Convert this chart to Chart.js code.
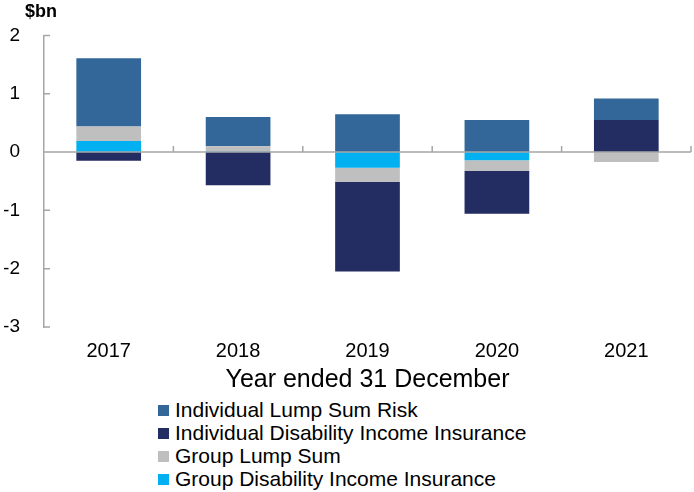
<!DOCTYPE html>
<html>
<head>
<meta charset="utf-8">
<script src="https://cdn.jsdelivr.net/npm/chart.js@4"></script>
<style>
  body { margin: 0; background: #fff; font-family: "Liberation Sans", Arial, sans-serif; }
  #wrap { position: relative; width: 694px; height: 492px; }
  #legend { position: absolute; left: 158px; top: 398px; margin: 0; padding: 0; list-style: none; }
  #legend li { height: 23px; line-height: 23px; font-size: 21px; color: #000; white-space: nowrap; }
  #legend span { display: inline-block; width: 11px; height: 11px; margin-right: 6px; vertical-align: 1px; }
</style>
</head>
<body>
<div id="wrap">
  <canvas id="chart" width="694" height="398"></canvas>
  <ul id="legend"></ul>
</div>
<script>
const years = ['2017', '2018', '2019', '2020', '2021']
const yTicks = [-3, -2, -1, 0, 1, 2]

// stacking order (bottom up), legend shows them reversed
const groupDII = [0.19, 0.01, -0.27, -0.14, 0]
const groupLumpSum = [0.25, 0.09, -0.24, -0.18, -0.17]
const individualDII = [-0.15, -0.57, -1.54, -0.74, 0.55]
const individualLumpSum = [1.17, 0.50, 0.65, 0.55, 0.37]

const axisGrey = '#a6a6a6'
const font = '"Liberation Sans", Arial, sans-serif'

const axisMarks = {
  id: 'axisMarks',
  afterDatasetsDraw(chart) {
    const { ctx } = chart
    const x = chart.scales.x
    const y = chart.scales.y
    const zero = y.getPixelForValue(0)
    const half = (x.getPixelForValue(1) - x.getPixelForValue(0)) / 2
    ctx.save()
    ctx.strokeStyle = axisGrey
    ctx.lineWidth = 1.5
    ctx.beginPath()
    ctx.moveTo(x.left, zero)
    ctx.lineTo(x.right, zero)
    years.forEach((yr, i) => {
      const px = x.getPixelForValue(i) + half
      ctx.moveTo(px, zero)
      ctx.lineTo(px, zero - 6)
    })
    yTicks.forEach(v => {
      const py = y.getPixelForValue(v)
      ctx.moveTo(x.left, py)
      ctx.lineTo(x.left + 6, py)
    })
    ctx.stroke()
    ctx.fillStyle = '#000'
    ctx.font = 'bold 18px ' + font
    ctx.textBaseline = 'middle'
    ctx.fillText('$bn', 25, y.top - 23)
    ctx.restore()
  }
}

const chart = new Chart(document.getElementById('chart'), {
  type: 'bar',
  data: {
    labels: years,
    datasets: [
      { label: 'Group Disability Income Insurance', data: groupDII, backgroundColor: '#00b0f0' },
      { label: 'Group Lump Sum', data: groupLumpSum, backgroundColor: '#bfbfbf' },
      { label: 'Individual Disability Income Insurance', data: individualDII, backgroundColor: '#232d62' },
      { label: 'Individual Lump Sum Risk', data: individualLumpSum, backgroundColor: '#336699' }
    ]
  },
  options: {
    responsive: false,
    animation: false,
    layout: { padding: { left: 4, right: 3, top: 27, bottom: 3 } },
    datasets: { bar: { categoryPercentage: 1, barPercentage: 0.5, borderWidth: 0 } },
    scales: {
      x: {
        stacked: true,
        grid: { display: false, drawTicks: false },
        border: { display: false },
        ticks: { color: '#000', padding: 12, font: { size: 20, family: font } },
        title: {
          display: true,
          text: 'Year ended 31 December',
          color: '#000',
          padding: 0,
          font: { size: 25, family: font }
        },
        afterFit(scale) { scale.height = 68 }
      },
      y: {
        stacked: true,
        min: -3,
        max: 2,
        ticks: { stepSize: 1, color: '#000', padding: 24, font: { size: 19, family: font } },
        grid: { display: false, drawTicks: false },
        border: { display: true, color: axisGrey, width: 1.5 },
        afterFit(scale) { scale.width = 40 }
      }
    },
    plugins: {
      legend: { display: false },
      tooltip: { enabled: false }
    }
  },
  plugins: [axisMarks]
})

// html legend, same order as the original (reverse of stacking)
const legendEl = document.getElementById('legend')
chart.data.datasets.slice().reverse().forEach(ds => {
  const li = document.createElement('li')
  const box = document.createElement('span')
  box.style.background = ds.backgroundColor
  li.appendChild(box)
  li.appendChild(document.createTextNode(ds.label))
  legendEl.appendChild(li)
})
</script>
</body>
</html>
